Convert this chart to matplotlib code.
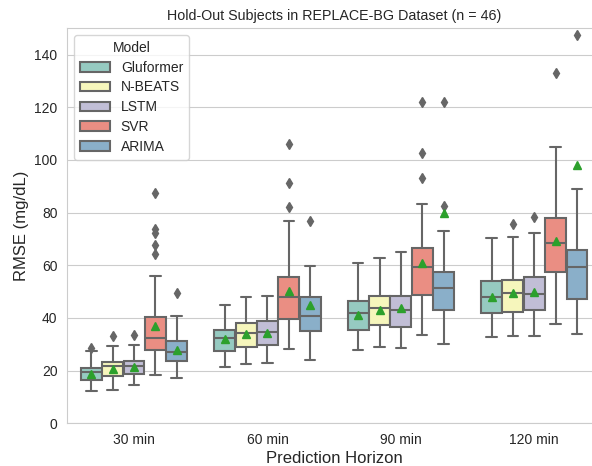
import matplotlib
matplotlib.use("Agg")
import matplotlib.pyplot as plt
import seaborn as sns
import numpy as np
from matplotlib.patches import Patch

horizons = ["30 min", "60 min", "90 min", "120 min"]
models = ["Gluformer", "N-BEATS", "LSTM", "SVR", "ARIMA"]

# stats per horizon (rows) x model (cols)
q1 = [[16.3, 18.0, 18.9, 27.8, 23.6],
      [27.5, 29.0, 29.7, 39.7, 35.1],
      [35.4, 37.3, 36.6, 48.9, 43.0],
      [41.7, 42.1, 43.0, 57.3, 47.1]]
med = [[19.5, 21.7, 21.7, 32.4, 26.9],
       [32.3, 34.3, 34.6, 47.8, 40.9],
       [41.9, 43.8, 43.2, 59.3, 51.2],
       [48.0, 49.5, 49.0, 68.6, 59.4]]
q3 = [[21.0, 23.2, 23.8, 40.4, 31.3],
      [35.4, 38.1, 38.9, 55.6, 48.0],
      [46.4, 48.4, 48.4, 66.4, 57.4],
      [54.0, 54.6, 55.6, 77.8, 65.8]]
whislo = [[12.3, 12.8, 14.4, 18.3, 17.2],
          [21.4, 22.6, 22.9, 28.1, 24.1],
          [27.8, 29.0, 28.6, 33.5, 30.3],
          [32.8, 33.2, 33.2, 37.6, 34.1]]
whishi = [[27.5, 29.4, 29.7, 56.1, 40.9],
          [44.9, 48.0, 48.4, 76.8, 59.7],
          [61.0, 62.9, 65.1, 83.3, 72.9],
          [70.2, 70.8, 72.4, 105.1, 88.9]]
means = [[18.9, 20.8, 21.4, 37.1, 28.0],
         [31.9, 33.8, 34.3, 50.3, 44.9],
         [41.3, 43.2, 43.6, 60.7, 80.0],
         [48.0, 49.5, 49.9, 69.2, 98.1]]
fliers = [[[28.6], [33.2], [33.7], [87.5, 73.8, 72.1, 67.7, 64.3], [49.3]],
          [[], [], [], [106.1, 91.1, 82.0], [76.8]],
          [[], [], [], [121.9, 102.5, 93.0], [121.9, 82.5]],
          [[], [75.7], [78.2], [133.0], [147.4]]]

sns.set_style("whitegrid")
plt.rcParams['font.family'] = ['Liberation Sans', 'DejaVu Sans']

base = sns.color_palette("Set3", 5)
colors = [sns.desaturate(c, 0.75) for c in base]
gray = "#666666"

fig = plt.figure(figsize=(5.92, 4.66), dpi=100)
L, B, T = 67.3, 423.3, 28.3
R = 601.0
ax = fig.add_axes([L / 592, (466 - B) / 466, (R - L) / 592, (B - T) / 466])

n = len(models)
w = 0.8 / n
for i, h in enumerate(horizons):
    for j, m in enumerate(models):
        pos = i - 0.4 + w * (j + 0.5)
        st = dict(med=med[i][j], q1=q1[i][j], q3=q3[i][j],
                  whislo=whislo[i][j], whishi=whishi[i][j],
                  mean=means[i][j], fliers=fliers[i][j])
        ax.bxp([st], positions=[pos], widths=w * 0.98, patch_artist=True,
               showmeans=True, manage_ticks=False,
               boxprops=dict(facecolor=colors[j], edgecolor=gray, linewidth=1.5),
               medianprops=dict(color=gray, linewidth=1.5),
               whiskerprops=dict(color=gray, linewidth=1.5),
               capprops=dict(color=gray, linewidth=1.5),
               flierprops=dict(marker="d", markerfacecolor=gray, markeredgecolor=gray,
                               markersize=5),
               meanprops=dict(marker="^", markerfacecolor="#2ca02c",
                              markeredgecolor="#2ca02c", markersize=6))

ax.set_xlim(-0.5, 3.5)
ax.set_ylim(0, 150)
ax.set_xticks(range(len(horizons)))
ax.set_xticklabels(horizons, fontsize=10)
ax.set_yticks(np.arange(0, 141, 20))
ax.tick_params(axis="y", labelsize=10)
ax.xaxis.grid(False)
ax.set_axisbelow(True)
ax.set_xlabel("Prediction Horizon", fontsize=12, labelpad=3)
ax.set_ylabel("RMSE (mg/dL)", fontsize=12)
ax.set_title("Hold-Out Subjects in REPLACE-BG Dataset (n = 46)", fontsize=10.3)

handles = [Patch(facecolor=colors[j], edgecolor=gray, linewidth=1.5, label=m)
           for j, m in enumerate(models)]
ax.legend(handles=handles, title="Model", loc="upper left", fontsize=10,
          title_fontsize=10, labelspacing=0.42, handlelength=2.15)

fig.savefig("out.png", dpi=100)
